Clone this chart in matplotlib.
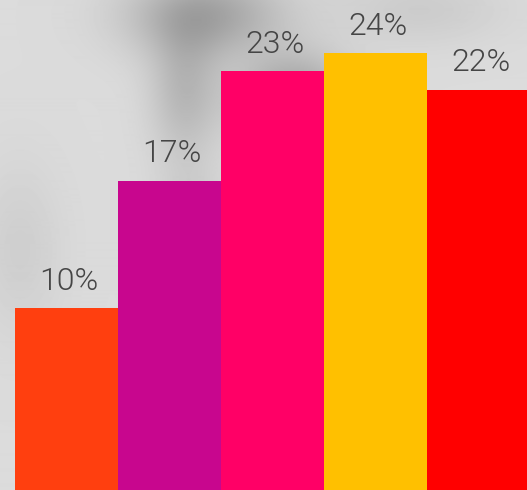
import numpy as np
import matplotlib.pyplot as plt

values = [10, 17, 23, 24, 22]
labels = ["10%", "17%", "23%", "24%", "22%"]
colors = ["#FF3F0F", "#C8068E", "#FF0066", "#FFC000", "#FF0000"]

fig = plt.figure(figsize=(5.27, 4.9), dpi=100)

# grey marbled backdrop (smooth approximation)
bg = fig.add_axes([0, 0, 1, 1])
yy, xx = np.mgrid[0:490, 0:527]
shade = np.full(xx.shape, 0.86)
for cx, cy, sx, sy, depth in [(205, 15, 55, 30, 0.22), (295, 95, 40, 30, 0.22),
                              (185, 90, 25, 45, 0.14), (190, 230, 25, 50, 0.08),
                              (420, 10, 60, 25, 0.06), (20, 250, 30, 60, 0.05)]:
    shade -= depth * np.exp(-((xx - cx) ** 2 / (2 * sx ** 2) + (yy - cy) ** 2 / (2 * sy ** 2)))
bg.imshow(shade, cmap="gray", vmin=0, vmax=1, aspect="auto", interpolation="bilinear")
bg.axis("off")

ax = fig.add_axes([0, 0, 1, 1])
ax.patch.set_alpha(0)
x = np.arange(len(values))
ax.bar(x, values, width=1.0, color=colors, linewidth=0)
for xi, v, lab in zip(x, values, labels):
    ax.text(xi + 0.02, v + 1.0, lab, ha="center", va="baseline",
            fontsize=23, color="#454545", family="Roboto", fontweight=300)

ax.set_xlim(-0.65, 4.466)
ax.set_ylim(0, 26.92)
ax.axis("off")

fig.savefig("out.png", dpi=100)
